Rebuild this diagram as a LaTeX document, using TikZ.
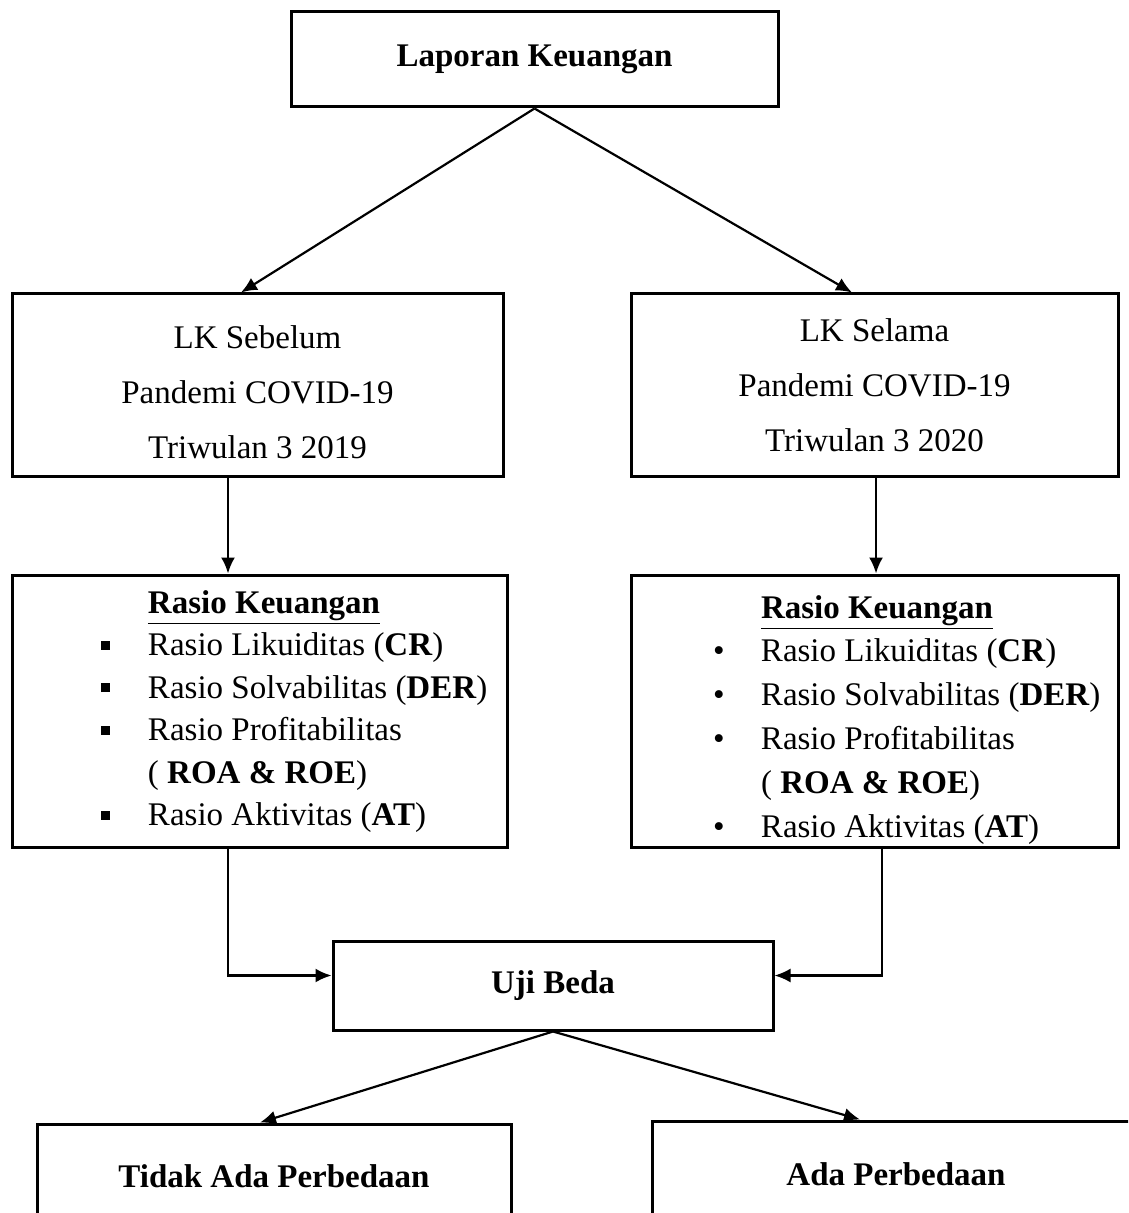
\documentclass[tikz,border=0pt]{standalone}
\usepackage{fontspec}
\setmainfont{Liberation Serif}
\usetikzlibrary{arrows.meta}

\newcommand{\sqbullet}{\rule[3pt]{4.5pt}{4.5pt}}
\newcommand{\rdbullet}{\textbullet}

\begin{document}
\begin{tikzpicture}[x=0.5pt, y=-0.5pt, >={Latex[length=8pt,width=7pt]}, line width=1.1pt,
    box/.style={draw, line width=1.5pt, inner sep=0pt, align=center, font=\fontsize{16.5}{27.5}\selectfont},
    listbox/.style={box, text height=0pt, text depth=0pt}]
    \useasboundingbox (0,0) rectangle (1128,1213);
    \clip (0,0) rectangle (1128,1213);

    % Nodes {lap, sebelum, selama, rasioA, rasioB, uji, tidak, ada}
    \node [box, minimum width=243.5pt, minimum height=47.5pt] (lap)     at (534.5,59.5) {\textbf{Laporan Keuangan}};
    \node [box, minimum width=245.5pt, minimum height=91pt]   (sebelum) at (257.5,385)  {\rule{0pt}{18.5pt}LK Sebelum\\Pandemi COVID-19\\Triwulan 3 2019};
    \node [box, minimum width=243.5pt, minimum height=91pt]   (selama)  at (874.5,385)  {\rule{0pt}{12pt}LK Selama\\Pandemi COVID-19\\Triwulan 3 2020};

    \node [listbox, minimum width=247.5pt, minimum height=136pt] (rasioA) at (259.5,711) {%
        \fontsize{16.5}{21.25}\selectfont
        \raisebox{49pt}{\begin{tabular}[t]{@{\hspace{35pt}}p{23.5pt}@{}p{170pt}@{}}
            & \underline{\textbf{Rasio Keuangan}}\\
            \sqbullet & Rasio Likuiditas (\textbf{CR})\\
            \sqbullet & Rasio Solvabilitas (\textbf{DER})\\
            \sqbullet & Rasio Profitabilitas\\
                      & ( \textbf{ROA \& ROE})\\
            \sqbullet & Rasio Aktivitas (\textbf{AT})
        \end{tabular}}};
    \node [listbox, minimum width=243.5pt, minimum height=136pt] (rasioB) at (874.5,711) {%
        \fontsize{16.5}{22}\selectfont
        \raisebox{46.5pt}{\begin{tabular}[t]{@{\hspace{32.5pt}}p{24pt}@{}p{170pt}@{}}
            & \underline{\textbf{Rasio Keuangan}}\\[-0.5pt]
            \rdbullet & Rasio Likuiditas (\textbf{CR})\\
            \rdbullet & Rasio Solvabilitas (\textbf{DER})\\
            \rdbullet & Rasio Profitabilitas\\
                      & ( \textbf{ROA \& ROE})\\
            \rdbullet & Rasio Aktivitas (\textbf{AT})
        \end{tabular}}};

    \node [box, minimum width=220pt, minimum height=44.5pt] (uji)   at (553,985.5) {\textbf{Uji Beda}};
    \node [box, minimum width=237pt, minimum height=52pt]   (tidak) at (274,1176)  {\textbf{Tidak Ada Perbedaan}};
    \node [box, minimum width=244pt, minimum height=53pt]   (ada)   at (896,1174)  {\textbf{Ada Perbedaan}};

    \coordinate (colA) at (228,0);
    \coordinate (colB) at (876,0);
    \coordinate (colC) at (882,0);

    % Paths
    \path [->] (lap.south) edge ([xshift=-8.25pt]sebelum.north);
    \path [->] (lap.south) edge ([xshift=-11.25pt]selama.north);
    \draw [->] (sebelum.south -| colA) -- (rasioA.north -| colA);
    \draw [->] (selama.south -| colB)  -- (rasioB.north -| colB);
    \draw [->] (rasioA.south -| colA) |- ([yshift=5pt]uji.west);
    \draw [->] (rasioB.south -| colC) |- ([yshift=5pt]uji.east);
    \path [->] (uji.south) edge ([xshift=-7pt]tidak.north);
    \path [->] (uji.south) edge ([xshift=-18pt]ada.north);

\end{tikzpicture}
\end{document}
